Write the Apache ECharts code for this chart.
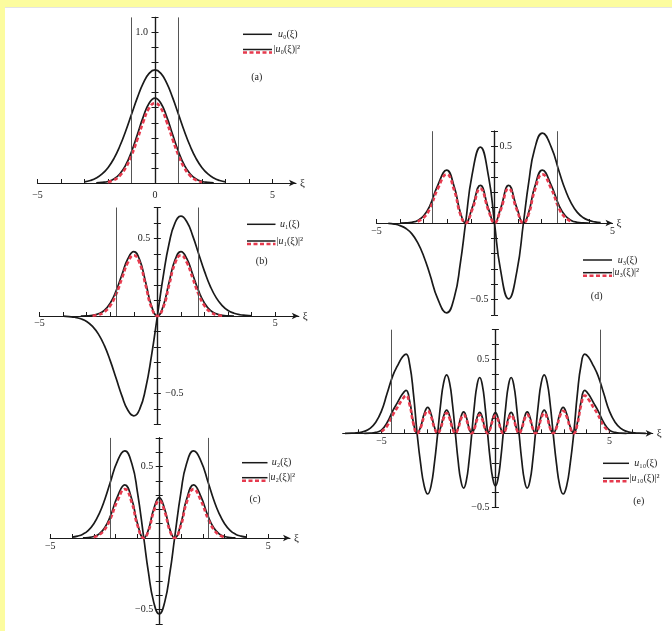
<!DOCTYPE html>
<html><head><meta charset="utf-8">
<script src="https://cdn.jsdelivr.net/npm/echarts@6/dist/echarts.min.js"></script>
<style>
html,body{margin:0;padding:0;background:#fff;}
#wrap{position:relative;width:672px;height:631px;background:#fff;overflow:hidden;}
#yt{position:absolute;left:0;top:0;width:672px;height:7px;background:#fcfc9f;}
#yl{position:absolute;left:0;top:0;width:5px;height:631px;background:#fcfc9f;}
#edge{position:absolute;left:5px;top:7px;width:667px;height:1px;background:#e4e4e4;}
#chart{position:absolute;left:0;top:0;width:672px;height:631px;}
</style></head><body>
<div id="wrap"><div id="yt"></div><div id="yl"></div><div id="edge"></div><div id="chart"></div></div>
<script>
// ---------- data ----------
// (a) n = 0
const xA = [-3,-2.75,-2.5,-2.25,-2,-1.75,-1.5,-1.25,-1,-0.75,-0.5,-0.25,0,0.25,0.5,0.75,1,1.25,1.5,1.75,2,2.25,2.5,2.75,3];
const uA = [0.008,0.017,0.033,0.060,0.102,0.162,0.244,0.344,0.456,0.567,0.663,0.728,0.751,0.728,0.663,0.567,0.456,0.344,0.244,0.162,0.102,0.060,0.033,0.017,0.008];
const pA = [null,null,0.001,0.004,0.010,0.026,0.060,0.118,0.208,0.322,0.439,0.530,0.564,0.530,0.439,0.322,0.208,0.118,0.060,0.026,0.010,0.004,0.001,null,null];
const rA = [null,null,null,null,0.006,0.019,0.048,0.100,0.183,0.290,0.405,0.497,0.530,0.497,0.405,0.290,0.183,0.100,0.048,0.019,0.006,null,null,null,null];
const turnA = [-1, 1];

// (b) n = 1
const xB = [-4,-3.75,-3.5,-3.25,-3,-2.75,-2.5,-2.25,-2,-1.75,-1.5,-1.25,-1,-0.75,-0.5,-0.25,0,0.25,0.5,0.75,1,1.25,1.5,1.75,2,2.25,2.5,2.75,3,3.25,3.5,3.75,4];
const uB = [-0.001,-0.004,-0.008,-0.018,-0.035,-0.067,-0.117,-0.190,-0.288,-0.402,-0.517,-0.608,-0.644,-0.601,-0.469,-0.257,0,0.257,0.469,0.601,0.644,0.608,0.517,0.402,0.288,0.190,0.117,0.067,0.035,0.018,0.008,0.004,0.001];
const pB = [null,null,null,0,0.001,0.004,0.014,0.036,0.083,0.162,0.268,0.370,0.415,0.362,0.220,0.066,0,0.066,0.220,0.362,0.415,0.370,0.268,0.162,0.083,0.036,0.014,0.004,0.001,0,null,null,null];
const rB = [null,null,null,null,null,0.002,0.008,0.026,0.066,0.140,0.243,0.345,0.392,0.340,0.200,0.055,0,0.055,0.200,0.340,0.392,0.345,0.243,0.140,0.066,0.026,0.008,0.002,null,null,null,null,null];
const turnB = [-1.732, 1.732];

// (c) n = 2
const xC = [-4,-3.75,-3.5,-3.25,-3,-2.75,-2.5,-2.25,-1.91,-1.58,-1.25,-1,-0.707,-0.5,-0.25,0,0.25,0.5,0.707,1,1.25,1.58,1.91,2.25,2.5,2.75,3,3.25,3.5,3.75,4];
const uC = [0.006,0.013,0.027,0.054,0.100,0.171,0.268,0.386,0.540,0.609,0.517,0.322,0,-0.234,-0.450,-0.531,-0.450,-0.234,0,0.322,0.517,0.609,0.540,0.386,0.268,0.171,0.100,0.054,0.027,0.013,0.006];
const pC = [null,null,0.001,0.003,0.010,0.029,0.072,0.149,0.291,0.371,0.267,0.104,0,0.055,0.203,0.282,0.203,0.055,0,0.104,0.267,0.371,0.291,0.149,0.072,0.029,0.010,0.003,0.001,null,null];
const rC = [null,null,null,null,0.006,0.022,0.060,0.130,0.262,0.342,0.243,0.090,0,0.045,0.185,0.262,0.185,0.045,0,0.090,0.243,0.342,0.262,0.130,0.060,0.022,0.006,null,null,null,null];
const turnC = [-2.236, 2.236];

// (d) n = 3
const xD = [-4.5,-4.25,-4,-3.75,-3.5,-3.25,-3,-2.75,-2.4,-2.03,-1.7,-1.45,-1.225,-0.95,-0.6,-0.25,0,0.25,0.6,0.95,1.225,1.45,1.7,2.03,2.4,2.75,3,3.25,3.5,3.75,4,4.25,4.5];
const uD = [-0.003,-0.007,-0.017,-0.036,-0.071,-0.130,-0.217,-0.330,-0.498,-0.5875,-0.483,-0.265,0,0.314,0.496,0.302,0,-0.302,-0.496,-0.314,0,0.265,0.483,0.5875,0.498,0.330,0.217,0.130,0.071,0.036,0.017,0.007,0.003];
const pD = [null,null,0,0.001,0.005,0.017,0.047,0.109,0.248,0.345,0.233,0.070,0,0.098,0.246,0.091,0,0.091,0.246,0.098,0,0.070,0.233,0.345,0.248,0.109,0.047,0.017,0.005,0.001,0,null,null];
const rD = [null,null,null,null,null,0.010,0.035,0.090,0.225,0.318,0.210,0.058,0,0.085,0.225,0.080,0,0.080,0.225,0.085,0,0.058,0.210,0.318,0.225,0.090,0.035,0.010,null,null,null,null,null];
const turnD = [-2.646, 2.646];

// (e) n = 10
const xE = [-6.6,-6.3,-6,-5.75,-5.5,-5.25,-5,-4.75,-4.5,-4.3,-4.08,-3.92,-3.759,-3.597,-3.436,-3.281,-3.125,-2.97,-2.824,-2.679,-2.533,-2.402,-2.271,-2.14,-2.012,-1.885,-1.757,-1.637,-1.516,-1.395,-1.276,-1.156,-1.037,-0.921,-0.806,-0.69,-0.574,-0.459,-0.343,-0.229,-0.114,0,0.114,0.229,0.343,0.459,0.574,0.69,0.806,0.921,1.037,1.156,1.276,1.395,1.516,1.637,1.757,1.885,2.012,2.14,2.271,2.402,2.533,2.679,2.824,2.97,3.125,3.281,3.436,3.597,3.759,3.92,4.08,4.3,4.5,4.75,5,5.25,5.5,5.75,6,6.3,6.6];
const uE = [0,0.001,0.004,0.013,0.033,0.075,0.15,0.27,0.39,0.455,0.515,0.535,0.463,0.268,0,-0.205,-0.355,-0.41,-0.355,-0.205,0,0.198,0.342,0.395,0.342,0.198,0,-0.185,-0.32,-0.37,-0.32,-0.185,0,0.189,0.326,0.377,0.326,0.189,0,-0.178,-0.307,-0.355,-0.307,-0.178,0,0.189,0.326,0.377,0.326,0.189,0,-0.185,-0.32,-0.37,-0.32,-0.185,0,0.198,0.342,0.395,0.342,0.198,0,-0.205,-0.355,-0.41,-0.355,-0.205,0,0.268,0.463,0.535,0.515,0.455,0.39,0.27,0.15,0.075,0.033,0.013,0.004,0.001,0];
const pE = [null,null,null,0,0.001,0.006,0.022,0.073,0.153,0.207,0.265,0.29,0.215,0.072,0,0.044,0.131,0.175,0.131,0.044,0,0.039,0.117,0.156,0.117,0.039,0,0.036,0.109,0.145,0.109,0.036,0,0.0355,0.1065,0.142,0.1065,0.0355,0,0.035,0.105,0.14,0.105,0.035,0,0.0355,0.1065,0.142,0.1065,0.0355,0,0.036,0.109,0.145,0.109,0.036,0,0.039,0.117,0.156,0.117,0.039,0,0.044,0.131,0.175,0.131,0.044,0,0.072,0.215,0.29,0.265,0.207,0.153,0.073,0.022,0.006,0.001,0,null,null,null];
const rE = [null,null,null,null,null,null,0.012,0.05,0.125,0.175,0.23,0.255,0.19,0.064,0,0.038,0.114,0.152,0.114,0.038,0,0.034,0.102,0.136,0.102,0.034,0,0.032,0.095,0.126,0.095,0.032,0,0.031,0.093,0.124,0.093,0.031,0,0.03,0.09,0.12,0.09,0.03,0,0.031,0.093,0.124,0.093,0.031,0,0.032,0.095,0.126,0.095,0.032,0,0.034,0.102,0.136,0.102,0.034,0,0.038,0.114,0.152,0.114,0.038,0,0.064,0.19,0.255,0.23,0.175,0.125,0.05,0.012,null,null,null,null,null,null];
const turnE = [-4.583, 4.583];

// tick values / tick labels
const xTicks5 = [-5,-4,-3,-2,-1,0,1,2,3,4,5];
const xTicksD = [-5,-4,-3,-2,-1,0,1,2,3,4];
const xTicksE = [-6,-5,-4,-3,-2,-1,0,1,2,3,4,5,6];
const xLabA = [-5,0,5];
const xLab5 = [-5,5];
const yTickA = [0.1,0.2,0.3,0.4,0.5,0.6,0.7,0.8,0.9,1.0,1.1];
const yTickB = [-0.7,-0.6,-0.5,-0.4,-0.3,-0.2,-0.1,0.1,0.2,0.3,0.4,0.5,0.6,0.7];
const yTickC = [-0.6,-0.5,-0.4,-0.3,-0.2,-0.1,0.1,0.2,0.3,0.4,0.5,0.6,0.7];
const yTickD = [-0.6,-0.5,-0.4,-0.3,-0.2,-0.1,0.1,0.2,0.3,0.4,0.5,0.6];
const yTickE = [-0.5,-0.4,-0.3,-0.2,-0.1,0.1,0.2,0.3,0.4,0.5,0.6,0.7];
const yLeftA = [1.0], yRightA = [];
const yLeftB = [0.5], yRightB = [-0.5];
const yLeftC = [0.5,-0.5], yRightC = [];
const yLeftD = [-0.5], yRightD = [0.5];
const yLeftE = [0.5,-0.5], yRightE = [];

// ---------- layout ----------
const FONT = "'Liberation Serif','DejaVu Serif',serif";
const INK = '#1a1a1a';
const RED = '#e63a4e';
const panels = [
  {x:xA,u:uA,p:pA,r:rA,turn:turnA,xTicks:xTicks5,xLab:xLabA,yTicks:yTickA,yL:yLeftA,yR:yRightA,smooth:0.5,
   grid:{left:37.5,top:17.4,width:258.5,height:165.6},xMin:-5,xMax:6,yMin:0,yMax:1.1,xm:7,ylm:7,yrm:7,
   lg:{a:243,b:272,y1:34.3,t1:278,y2:49.5,t2:273.5,tx:256.7,ty:77.7,sub:'\u2080',tag:'(a)'}},
  {x:xB,u:uB,p:pB,r:rB,turn:turnB,xTicks:xTicks5,xLab:xLab5,yTicks:yTickB,yL:yLeftB,yR:yRightB,smooth:0.5,
   grid:{left:39.5,top:207.5,width:259.3,height:217},xMin:-5,xMax:6,yMin:-0.7,yMax:0.7,xm:2,ylm:7,yrm:8,
   lg:{a:247,b:275.5,y1:224.3,t1:280,y2:241,t2:276.5,tx:261.7,ty:261,sub:'\u2081',tag:'(b)'}},
  {x:xC,u:uC,p:pC,r:rC,turn:turnC,xTicks:xTicks5,xLab:xLab5,yTicks:yTickC,yL:yLeftC,yR:yRightC,smooth:0.5,
   grid:{left:50.2,top:437.9,width:239.8,height:185.9},xMin:-5,xMax:6,yMin:-0.6,yMax:0.7,xm:3.5,ylm:6,yrm:6,
   lg:{a:242,b:267.5,y1:462.7,t1:271.7,y2:477.7,t2:268.5,tx:255,ty:499,sub:'\u2082',tag:'(c)'}},
  {x:xD,u:uD,p:pD,r:rD,turn:turnD,xTicks:xTicksD,xLab:xLab5,yTicks:yTickD,yL:yLeftD,yR:yRightD,smooth:0.5,
   grid:{left:376.5,top:131.2,width:236,height:183.6},xMin:-5,xMax:5,yMin:-0.6,yMax:0.6,xm:3,ylm:6,yrm:5,
   lg:{a:583,b:612,y1:260,t1:617.7,y2:272.7,t2:612.5,tx:596.7,ty:296.7,sub:'\u2083',tag:'(d)'}},
  {x:xE,u:uE,p:pE,r:rE,turn:turnE,xTicks:xTicksE,xLab:xLab5,yTicks:yTickE,yL:yLeftE,yR:yRightE,smooth:0.5,
   grid:{left:342.7,top:329.7,width:310,height:177.6},xMin:-6.7,xMax:6.9,yMin:-0.5,yMax:0.7,xm:3,ylm:6,yrm:6,
   lg:{a:603,b:629,y1:463.3,t1:634.3,y2:478.3,t2:629.5,tx:638.7,ty:501.7,sub:'\u2081\u2080',tag:'(e)'}}
];

const pairs = (xs, ys) => xs.map((x, i) => [x, ys[i] == null ? '-' : ys[i]]);
const fmtX = v => (v < 0 ? '\u2212' : '') + Math.abs(v);
const fmtY = v => (v < 0 ? '\u2212' : '') + Math.abs(v).toFixed(1);
const axisLineStyle = {color: INK, width: 1.2};
const labelStyle = {fontFamily:FONT, fontSize:10, color:'#222'};

const option = {animation:false, grid:[], xAxis:[], yAxis:[], series:[], graphic:[]};
function addGrid(g){ option.grid.push(Object.assign({containLabel:false}, g)); return option.grid.length - 1; }
function addX(a){ option.xAxis.push(a); return option.xAxis.length - 1; }
function addY(a){ option.yAxis.push(a); return option.yAxis.length - 1; }
const hiddenAxis = (gi) => ({type:'value', gridIndex:gi, show:false, min:0, max:1, splitLine:{show:false}});

panels.forEach((P) => {
  const G = P.grid;
  const gi = addGrid(G);
  const xi = addX({
    type:'value', gridIndex:gi, min:P.xMin, max:P.xMax, splitLine:{show:false},
    axisLine:{show:true, onZero:true, lineStyle:axisLineStyle, symbol:['none','arrow'], symbolSize:[5,7]},
    axisTick:{show:true, inside:true, length:4, customValues:P.xTicks, lineStyle:{color:INK, width:1}},
    axisLabel:{show:false},
    name:'\u03be', nameLocation:'end', nameGap:4,
    nameTextStyle:{fontFamily:FONT, fontSize:11, color:'#222'}
  });
  const yBase = {type:'value', gridIndex:gi, min:P.yMin, max:P.yMax, splitLine:{show:false}, axisLabel:{show:false}};
  const yi = addY(Object.assign({}, yBase, {
    position:'left',
    axisLine:{show:true, onZero:true, onZeroAxisIndex:xi, lineStyle:axisLineStyle},
    axisTick:{show:true, length:3.5, customValues:P.yTicks, lineStyle:{color:INK, width:1}}
  }));
  addY(Object.assign({}, yBase, {
    position:'right',
    axisLine:{show:true, onZero:true, onZeroAxisIndex:xi, lineStyle:axisLineStyle},
    axisTick:{show:true, length:3.5, customValues:P.yTicks, lineStyle:{color:INK, width:1}}
  }));

  // label-only helper grids whose edges sit on the zero lines
  const y0 = G.top + G.height * P.yMax / (P.yMax - P.yMin);
  const x0 = G.left + G.width * (-P.xMin) / (P.xMax - P.xMin);
  const hx = addGrid({left:G.left, width:G.width, top:G.top, height:y0 - G.top});
  addX({type:'value', gridIndex:hx, min:P.xMin, max:P.xMax, position:'bottom', splitLine:{show:false},
    axisLine:{show:false, onZero:false}, axisTick:{show:false},
    axisLabel:Object.assign({show:true, customValues:P.xLab, margin:P.xm, formatter:fmtX}, labelStyle)});
  addY(hiddenAxis(hx));
  if (P.yL.length) {
    const hl = addGrid({left:x0, width:G.left + G.width - x0, top:G.top, height:G.height});
    addX(hiddenAxis(hl));
    addY({type:'value', gridIndex:hl, min:P.yMin, max:P.yMax, position:'left', splitLine:{show:false},
      axisLine:{show:false, onZero:false}, axisTick:{show:false},
      axisLabel:Object.assign({show:true, customValues:P.yL, margin:P.ylm, formatter:fmtY}, labelStyle)});
  }
  if (P.yR.length) {
    const hr = addGrid({left:G.left, width:x0 - G.left, top:G.top, height:G.height});
    addX(hiddenAxis(hr));
    addY({type:'value', gridIndex:hr, min:P.yMin, max:P.yMax, position:'right', splitLine:{show:false},
      axisLine:{show:false, onZero:false}, axisTick:{show:false},
      axisLabel:Object.assign({show:true, customValues:P.yR, margin:P.yrm, formatter:fmtY}, labelStyle)});
  }

  const common = {type:'line', xAxisIndex:xi, yAxisIndex:yi, showSymbol:false, symbol:'none', smooth:P.smooth, connectNulls:false, silent:true};
  option.series.push(Object.assign({}, common, {
    name:'u', data:pairs(P.x, P.u), z:3,
    lineStyle:{color:INK, width:1.7},
    markLine:{silent:true, symbol:['none','none'], label:{show:false},
      lineStyle:{color:'#555', width:1, type:'solid'},
      data:P.turn.map(t => [{coord:[t,0]},{coord:[t,P.yMax]}])}
  }));
  option.series.push(Object.assign({}, common, {
    name:'p', data:pairs(P.x, P.p), z:3, lineStyle:{color:INK, width:1.7}
  }));
  option.series.push(Object.assign({}, common, {
    name:'r', data:pairs(P.x, P.r), z:4, lineStyle:{color:RED, width:2.6, type:[4,2.5]}
  }));

  // legend drawn as graphic
  const L = P.lg;
  const rich = {
    i:{fontFamily:FONT, fontStyle:'italic', fontSize:10, fill:'#222'},
    n:{fontFamily:FONT, fontSize:10, fill:'#222'}
  };
  option.graphic.push(
    {type:'line', silent:true, shape:{x1:L.a, y1:L.y1, x2:L.b, y2:L.y1}, style:{stroke:INK, lineWidth:1.5}},
    {type:'text', silent:true, x:L.t1, y:L.y1, style:{text:'{i|u}{n|'+L.sub+'(\u03be)}', rich:rich, verticalAlign:'middle', align:'left'}},
    {type:'line', silent:true, shape:{x1:L.a, y1:L.y2, x2:L.b, y2:L.y2}, style:{stroke:INK, lineWidth:1.5}},
    {type:'line', silent:true, shape:{x1:L.a, y1:L.y2+3, x2:L.b, y2:L.y2+3}, style:{stroke:RED, lineWidth:2.6, lineDash:[4,2.5]}},
    {type:'text', silent:true, x:L.t2, y:L.y2, style:{text:'{n||}{i|u}{n|'+L.sub+'(\u03be)|\u00b2}', rich:rich, verticalAlign:'middle', align:'left'}},
    {type:'text', silent:true, x:L.tx, y:L.ty, style:{text:L.tag, fontFamily:FONT, fontSize:10, fill:'#222', align:'center', verticalAlign:'middle'}}
  );
});

const chart = echarts.init(document.getElementById('chart'), null, {renderer:'canvas'});
chart.setOption(option);
</script></body></html>
